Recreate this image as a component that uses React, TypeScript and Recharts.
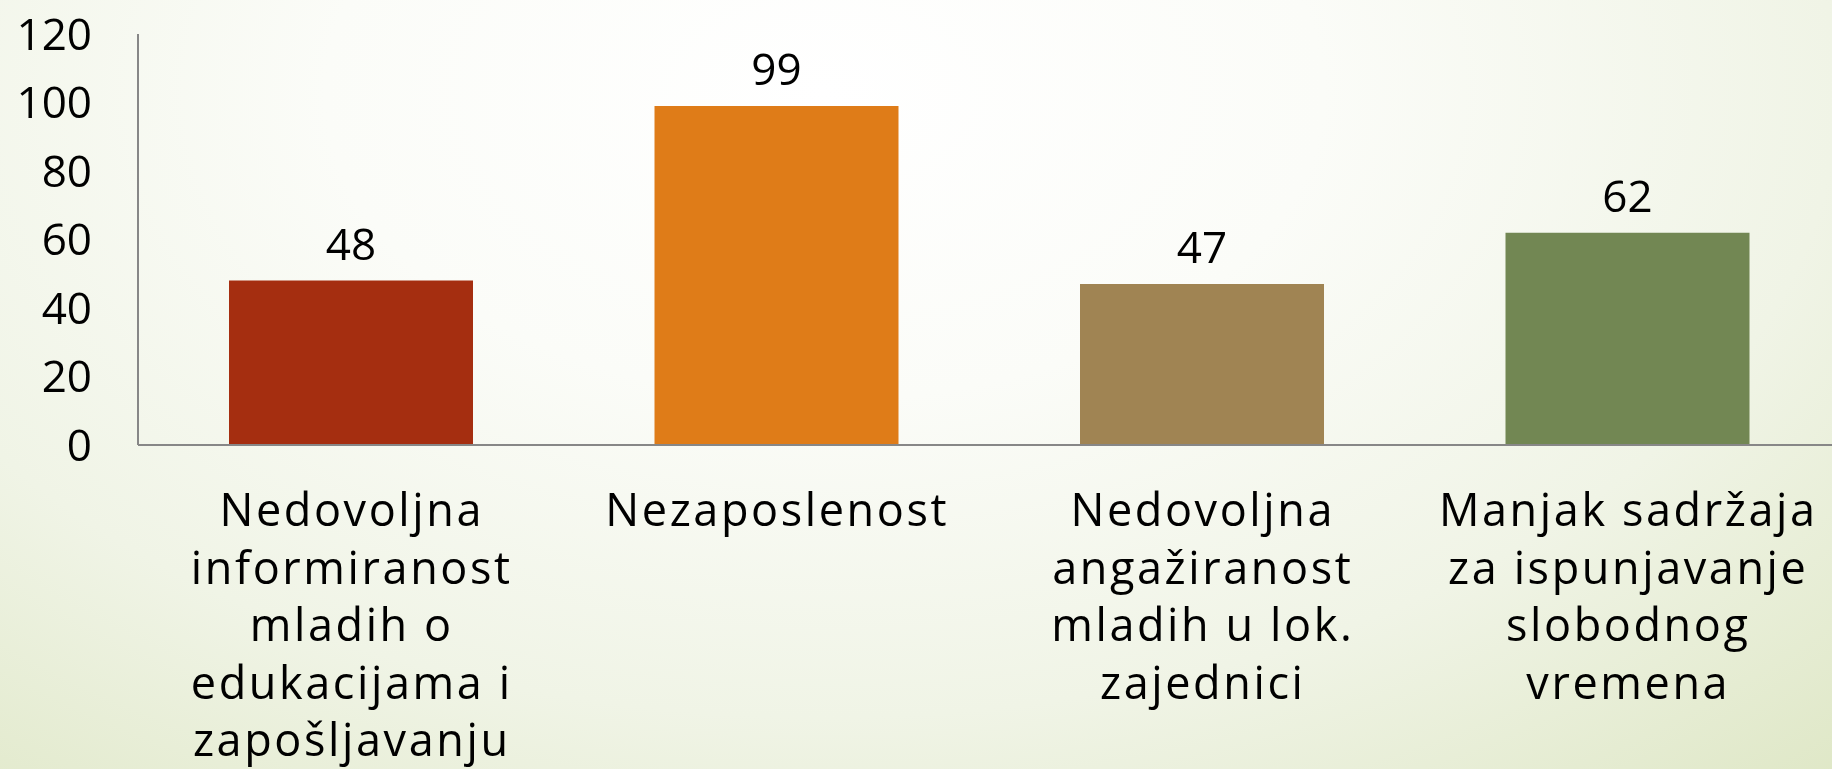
import { BarChart, Bar, XAxis, YAxis, LabelList, Cell } from 'recharts'

const categories = [
  'Nedovoljna\ninformiranost\nmladih o\nedukacijama i\nzapošljavanju',
  'Nezaposlenost',
  'Nedovoljna\nangažiranost\nmladih u lok.\nzajednici',
  'Manjak sadržaja\nza ispunjavanje\nslobodnog\nvremena',
]
const values = [48, 99, 47, 62]
const barColors = ['#a52e10', '#df7c18', '#a08453', '#728753']
const yTicks = [0, 20, 40, 60, 80, 100, 120]

const data = categories.map((name, i) => ({ name, value: values[i] }))

const FONT = '"Open Sans", sans-serif'

function CategoryTick(props: any) {
  const { x, y, payload } = props
  const lines = String(payload.value).split('\n')
  return (
    <text
      x={x}
      y={y}
      textAnchor="middle"
      fill="#000"
      fontSize={45}
      letterSpacing={2.6}
      fontFamily={FONT}
    >
      {lines.map((line, i) => (
        <tspan key={i} x={x + 1} dy={i === 0 ? 79 : 57.5}>
          {line}
        </tspan>
      ))}
    </text>
  )
}

export default function App() {
  return (
    <div
      style={{
        position: 'fixed',
        left: 0,
        top: 0,
        width: 1832,
        height: 769,
        overflow: 'hidden',
        background:
          'radial-gradient(ellipse 85% 125% at 45% 12%, #ffffff 0%, #fbfcf8 32%, #f0f4e6 65%, #dde6c3 100%)',
      }}
    >
      <BarChart
        width={1840}
        height={769}
        data={data}
        margin={{ top: 34, right: 0, bottom: 0, left: 0 }}
      >
        <XAxis
          dataKey="name"
          height={324}
          interval={0}
          tick={<CategoryTick />}
          tickLine={false}
          tickSize={0}
          axisLine={{ stroke: '#878787', strokeWidth: 2 }}
        />
        <YAxis
          width={138}
          domain={[0, 120]}
          ticks={yTicks}
          interval={0}
          tickLine={false}
          tickSize={0}
          tickMargin={46}
          axisLine={{ stroke: '#878787', strokeWidth: 2 }}
          tick={{ fill: '#000', fontSize: 44, fontFamily: FONT }}
        />
        <Bar dataKey="value" barSize={244} isAnimationActive={false}>
          {data.map((d, i) => (
            <Cell key={d.name} fill={barColors[i]} />
          ))}
          <LabelList
            dataKey="value"
            position="top"
            offset={21}
            fill="#000"
            fontSize={44}
            fontFamily={FONT}
          />
        </Bar>
      </BarChart>
    </div>
  )
}
